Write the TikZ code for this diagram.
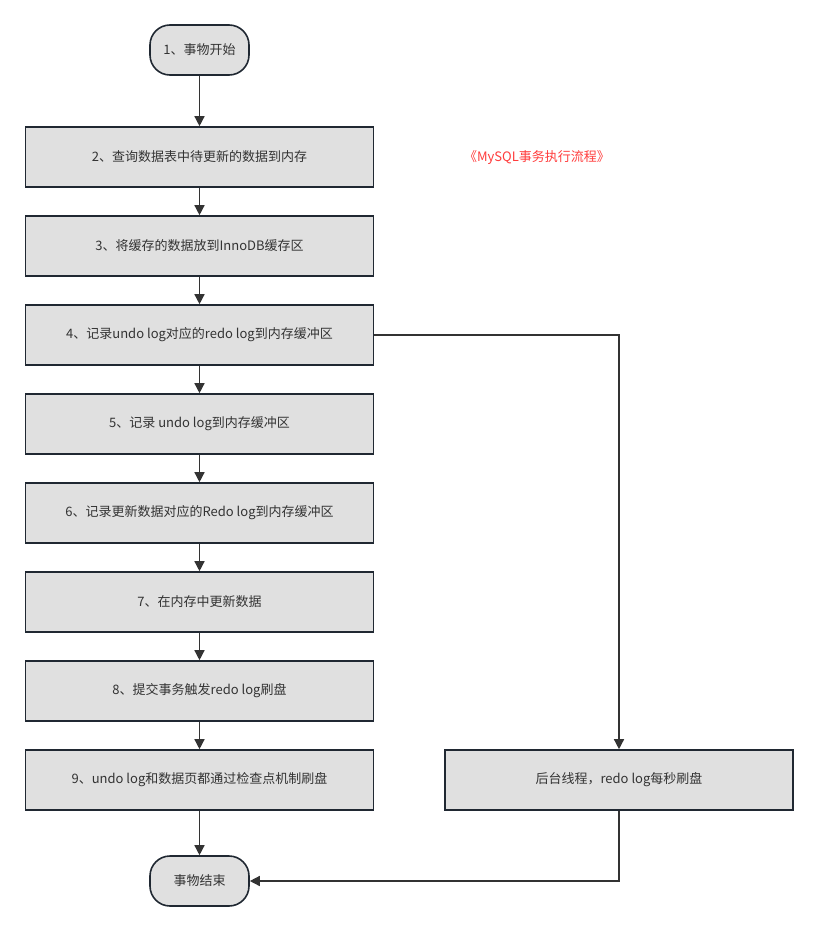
\documentclass[tikz,border=0pt]{standalone}
\usepackage{fontspec}
\setmainfont{Noto Sans CJK SC}
\usetikzlibrary{arrows.meta}
\definecolor{boxfill}{RGB}{224,224,224}
\definecolor{boxline}{RGB}{32,40,50}
\definecolor{txt}{RGB}{51,51,51}
\definecolor{linec}{RGB}{51,51,51}
\definecolor{titlered}{RGB}{255,60,60}
\begin{document}
\begin{tikzpicture}[x=1pt,y=-1pt,
  stepbox/.style={draw=boxline,fill=boxfill,line width=1.6pt,minimum width=348pt,minimum height=60pt,inner sep=0pt,text=txt,font=\fontsize{13pt}{15pt}\selectfont},
  term/.style={draw=boxline,fill=boxfill,line width=1.6pt,rounded corners=20pt,minimum width=99pt,minimum height=50pt,inner sep=0pt,text=txt,font=\fontsize{13pt}{15pt}\selectfont},
  conn/.style={draw=linec,line width=1.4pt,-{Triangle[length=10pt,width=10pt]}}]
\useasboundingbox (0,0) rectangle (818,931);
\fill[white] (0,0) rectangle (818,931);
\node[term] (start) at (199.5,50) {1、事物开始};
\node[stepbox] (s2) at (199.5,157) {2、查询数据表中待更新的数据到内存};
\node[stepbox] (s3) at (199.5,246) {3、将缓存的数据放到InnoDB缓存区};
\node[stepbox] (s4) at (199.5,335) {4、记录undo log对应的redo log到内存缓冲区};
\node[stepbox] (s5) at (199.5,424) {5、记录 undo log到内存缓冲区};
\node[stepbox] (s6) at (199.5,513) {6、记录更新数据对应的Redo log到内存缓冲区};
\node[stepbox] (s7) at (199.5,602) {7、在内存中更新数据};
\node[stepbox] (s8) at (199.5,691) {8、提交事务触发redo log刷盘};
\node[stepbox] (s9) at (199.5,780) {9、undo log和数据页都通过检查点机制刷盘};
\node[stepbox] (bg) at (619,780) {后台线程，redo log每秒刷盘};
\node[term] (end) at (199.5,881) {事物结束};
\node[text=titlered,font=\fontsize{13pt}{15pt}\selectfont] (title) at (537,158) {《MySQL事务执行流程》};
\coordinate (c1) at (619,335);
\coordinate (c2) at (619,881);
\draw[conn] (start) -- (s2);
\draw[conn] (s2) -- (s3);
\draw[conn] (s3) -- (s4);
\draw[conn] (s4) -- (s5);
\draw[conn] (s5) -- (s6);
\draw[conn] (s6) -- (s7);
\draw[conn] (s7) -- (s8);
\draw[conn] (s8) -- (s9);
\draw[conn] (s9) -- (end);
\draw[conn] (s4.east) -- (c1) -- (bg.north);
\draw[conn] (bg.south) -- (c2) -- (end.east);
\end{tikzpicture}
\end{document}
